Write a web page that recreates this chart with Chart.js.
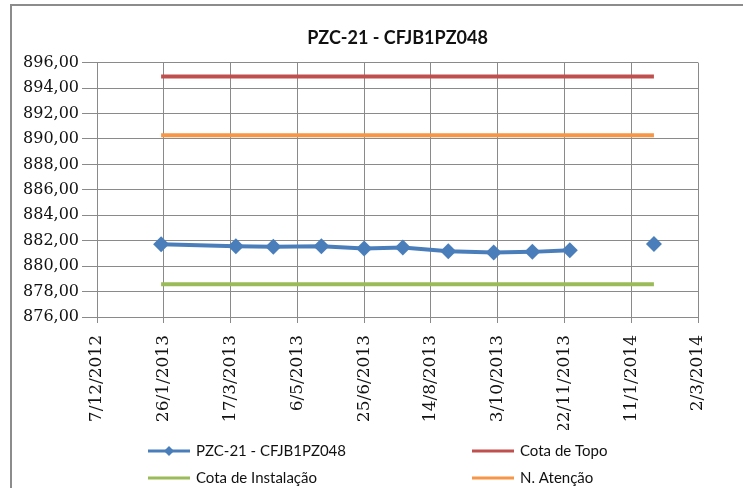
<!DOCTYPE html>
<html>
<head>
<meta charset="utf-8">
<script src="https://cdn.jsdelivr.net/npm/chart.js@4/dist/chart.umd.min.js"></script>
<style>
html,body{margin:0;padding:0;background:#fff;overflow:hidden;width:743px;height:488px;}
#frame{position:absolute;left:10px;top:4px;width:800px;height:600px;border:2px solid #8c8c8c;box-sizing:border-box;}
#wrap{position:absolute;left:0;top:0;width:743px;height:488px;}
</style>
</head>
<body>
<div id="frame"></div>
<div id="wrap"><canvas id="c" width="743" height="488"></canvas></div>
<script>
// ---- data ----
const chartTitle = 'PZC-21 - CFJB1PZ048';
const axisStart = '2012-12-07';
const axisEnd = '2014-03-02';
const tickStepDays = 50;
const yMin = 876, yMax = 896, yStep = 2;
const readingDates = ['2013-01-24','2013-03-21','2013-04-18','2013-05-24','2013-06-25','2013-07-24',
                      '2013-08-27','2013-09-30','2013-10-29','2013-11-26','2013-12-27','2014-01-28'];
const piezometer   = [881.71, 881.57, 881.52, 881.57, 881.39, 881.47,
                      881.17, 881.07, 881.12, 881.25, null, 881.73];
const cotaTopo = 894.90;
const nAtencao = 890.29;
const cotaInstalacao = 878.57;
const seriesNames = ['PZC-21 - CFJB1PZ048', 'Cota de Topo', 'Cota de Instalação', 'N. Atenção'];
const seriesColors = ['#4a7ebb', '#c0504d', '#9bbb59', '#f79646'];

// ---- helpers ----
function utc(s){ const p = s.split('-').map(Number); return Date.UTC(p[0], p[1]-1, p[2]); }
const DAY = 86400000;
const t0 = utc(axisStart);
function dayIndex(s){ return Math.round((utc(s) - t0) / DAY); }
function fmtDate(v){ const d = new Date(t0 + v*DAY); return d.getUTCDate() + '/' + (d.getUTCMonth()+1) + '/' + d.getUTCFullYear(); }
const firstDay = dayIndex(readingDates[0]);
const lastDay = dayIndex(readingDates[readingDates.length-1]);
function flat(v){ return [{x:firstDay, y:v}, {x:lastDay, y:v}]; }

const gridLegend = {
  id: 'gridLegend',
  afterDraw(chart){
    const ctx = chart.ctx;
    const cols = [148, 472], rows = [451, 478];
    chart.data.datasets.forEach((ds, i) => {
      const x = cols[i % 2], y = rows[Math.floor(i / 2)];
      ctx.save();
      ctx.strokeStyle = ds.borderColor;
      ctx.lineWidth = 3;
      ctx.beginPath(); ctx.moveTo(x, y); ctx.lineTo(x + 42, y); ctx.stroke();
      if (ds.pointRadius > 0) {
        ctx.fillStyle = ds.borderColor;
        Chart.helpers.drawPoint(ctx, {pointStyle: 'rectRot', radius: 5, borderWidth: 0, rotation: 0}, x + 21, y);
      }
      ctx.fillStyle = '#111';
      ctx.font = '15px Lato';
      ctx.textBaseline = 'middle';
      ctx.textAlign = 'left';
      ctx.fillText(ds.label, x + 48, y);
      ctx.restore();
    });
  }
};

const gridColor = '#8a8a8a';
new Chart(document.getElementById('c'), {
  type: 'line',
  data: {
    datasets: [
      { label: seriesNames[0], data: readingDates.map((d, i) => ({x: dayIndex(d), y: piezometer[i]})),
        borderColor: seriesColors[0], backgroundColor: seriesColors[0], borderWidth: 4,
        pointStyle: 'rectRot', pointRadius: 8, pointBorderWidth: 0, spanGaps: false, tension: 0 },
      { label: seriesNames[1], data: flat(cotaTopo), borderColor: seriesColors[1], borderWidth: 4, pointRadius: 0 },
      { label: seriesNames[2], data: flat(cotaInstalacao), borderColor: seriesColors[2], borderWidth: 4, pointRadius: 0 },
      { label: seriesNames[3], data: flat(nAtencao), borderColor: seriesColors[3], borderWidth: 4, pointRadius: 0 }
    ]
  },
  options: {
    responsive: false,
    animation: false,
    layout: { padding: { left: 14, right: 45, top: 0, bottom: 58 } },
    plugins: {
      legend: { display: false },
      tooltip: { enabled: false },
      title: { display: true, text: chartTitle, fullSize: false, color: '#111',
               font: { family: 'Lato', size: 18, weight: 'bold', lineHeight: 1.2 },
               padding: { top: 27, bottom: 14 } }
    },
    scales: {
      x: {
        type: 'linear', min: 0, max: dayIndex(axisEnd),
        afterFit(s){ s.height = 113; },
        ticks: { stepSize: tickStepDays, minRotation: 90, maxRotation: 90, padding: 12, color: '#111',
                 font: { family: 'DejaVu Serif', size: 17 }, callback: v => fmtDate(v) },
        grid: { color: gridColor, lineWidth: 1, tickLength: 6 },
        border: { color: gridColor, width: 1 }
      },
      y: {
        min: yMin, max: yMax,
        afterFit(s){ s.width = 83; },
        ticks: { stepSize: yStep, padding: 3, color: '#111',
                 font: { family: 'DejaVu Serif', size: 16 }, callback: v => v.toFixed(2).replace('.', ',') },
        grid: { color: gridColor, lineWidth: 1, tickLength: 15 },
        border: { color: gridColor, width: 1 }
      }
    }
  },
  plugins: [gridLegend]
});
</script>
</body>
</html>
